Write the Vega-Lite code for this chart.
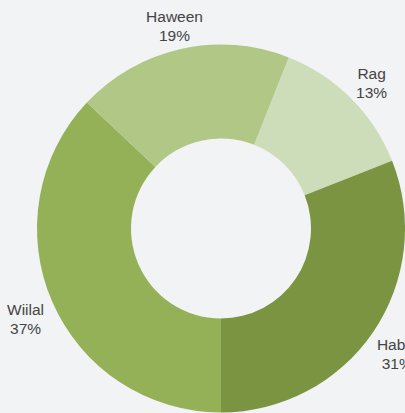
{
  "$schema": "https://vega.github.io/schema/vega-lite/v6.json",
  "autosize": {"type": "none"},
  "padding": {"left": 37, "top": 44, "right": 0, "bottom": 0},
  "width": 368,
  "height": 369,
  "background": "#f2f3f5",
  "config": {"view": {"stroke": null}},
  "data": {
    "values": [
      {"name": "Rag", "value": 13, "rank": 1, "label": "Rag\n13%"},
      {"name": "Hablo", "value": 31, "rank": 2, "label": "Hablo\n31%"},
      {"name": "Wiilal", "value": 37, "rank": 3, "label": "Wiilal\n37%"},
      {"name": "Haween", "value": 19, "rank": 4, "label": "Haween\n19%"}
    ]
  },
  "encoding": {
    "theta": {"field": "value", "type": "quantitative", "stack": true, "scale": {"range": [0.377, 6.660]}},
    "order": {"field": "rank", "type": "quantitative"}
  },
  "layer": [
    {
      "mark": {"type": "arc", "outerRadius": 184, "innerRadius": 90},
      "encoding": {
        "color": {
          "field": "name",
          "type": "nominal",
          "scale": {"domain": ["Rag", "Hablo", "Wiilal", "Haween"], "range": ["#cddcb9", "#7a9442", "#94b157", "#b0c786"]},
          "legend": null
        }
      }
    },
    {
      "mark": {"type": "text", "radius": 213, "dy": -3.5, "fontSize": 15.5, "font": "Liberation Sans", "color": "#444444", "lineBreak": "\n", "lineHeight": 19, "align": "center", "baseline": "middle"},
      "encoding": {"text": {"field": "label", "type": "nominal"}}
    }
  ]
}
